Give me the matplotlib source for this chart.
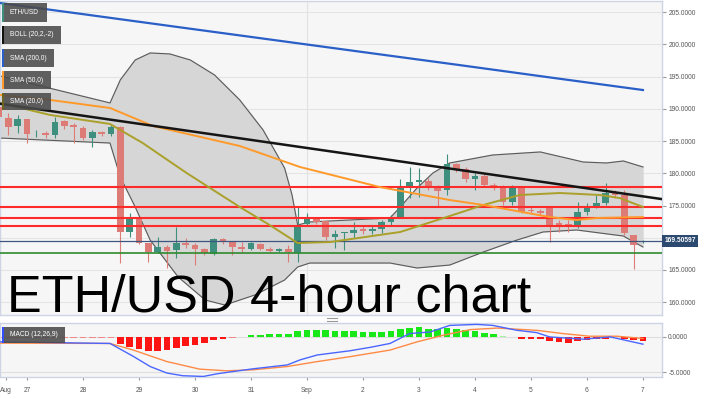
import matplotlib
matplotlib.use('Agg')
import matplotlib.pyplot as plt
from matplotlib.patches import Rectangle
from matplotlib.lines import Line2D
from matplotlib.transforms import blended_transform_factory

plt.rcParams['font.family'] = ['Liberation Sans', 'DejaVu Sans']

# ---------------- data (x = 4-hour bar index, 0 = 27 Aug 00:00) ----------------
bar_idx = list(range(-3, 67))
opens = [190.3, 188.6, 187.3, 188.4, 186.2, 186.3, 185.95, 188.1, 187.5, 187.0,
         185.5, 186.4, 186.1, 187.2, 170.9, 172.9, 169.2, 167.8, 168.6, 168.1,
         169.2, 168.9, 168.25, 167.5, 169.8, 169.3, 168.6, 168.3, 169.1, 168.3,
         167.9, 168.3, 167.6, 172.1, 172.9, 172.6, 170.1, 170.75, 170.7, 171.35,
         171.05, 171.35, 172.4, 173.06, 177.9, 178.65, 178.8, 177.7, 177.4, 181.4,
         180.7, 179.1, 179.6, 178.2, 177.9, 175.5, 177.7, 174.3, 174.2, 174.8,
         172.3, 172.1, 171.97, 174.0, 174.8, 175.4, 176.9, 176.6, 170.4, 169.35]
highs = [190.5, 189.4, 189.0, 188.5, 186.7, 186.6, 188.7, 188.3, 187.8, 187.3,
         186.7, 186.6, 187.5, 187.3, 173.8, 173.2, 169.2, 170.1, 168.8, 171.7,
         169.95, 169.2, 168.4, 169.95, 169.95, 169.5, 169.3, 169.3, 169.2, 168.5,
         168.4, 168.9, 174.8, 173.8, 173.1, 172.6, 171.2, 170.9, 172.4, 171.8,
         171.8, 172.7, 173.5, 179.1, 181.0, 180.8, 179.3, 178.2, 183.0, 181.6,
         181.0, 180.05, 179.9, 178.5, 178.2, 178.2, 177.9, 174.8, 174.5, 174.8,
         172.7, 172.7, 175.5, 175.4, 176.6, 178.5, 177.4, 177.4, 170.4, 169.6]
lows = [188.5, 185.95, 186.3, 184.7, 185.6, 185.5, 185.5, 186.9, 184.7, 185.2,
        184.1, 185.8, 185.8, 166.1, 170.1, 169.0, 166.2, 167.6, 165.3, 166.85,
        168.4, 165.8, 167.3, 167.3, 169.0, 167.3, 167.8, 168.1, 168.1, 167.8,
        167.8, 166.2, 166.2, 172.0, 172.1, 169.6, 168.4, 168.1, 169.95, 170.6,
        170.6, 170.7, 172.0, 173.0, 176.2, 176.3, 177.4, 174.8, 176.6, 180.2,
        178.65, 177.4, 177.9, 177.4, 175.1, 175.1, 173.8, 173.8, 173.6, 169.3,
        170.9, 170.9, 171.5, 173.5, 174.6, 175.1, 176.2, 170.4, 165.1, 169.2]
closes = [188.7, 187.2, 188.4, 186.1, 186.3, 185.95, 187.97, 187.3, 187.2, 185.5,
          186.4, 186.1, 187.2, 170.9, 172.9, 169.2, 167.8, 168.6, 167.9, 169.2,
          168.9, 168.25, 167.6, 169.8, 169.3, 168.6, 168.25, 169.2, 168.25, 167.9,
          168.3, 167.8, 171.7, 172.9, 172.4, 170.1, 170.6, 170.9, 171.2, 171.05,
          171.35, 172.4, 173.1, 177.7, 178.65, 178.96, 177.7, 177.25, 181.4, 180.7,
          179.1, 179.6, 178.2, 177.9, 175.5, 177.9, 174.0, 174.1, 173.9, 172.0,
          172.0, 171.95, 173.99, 174.77, 175.4, 176.9, 176.6, 170.7, 168.9, 169.51]

sma200_x = [-3, 6, 16, 26, 36, 46, 56, 66]
sma200_y = [206.46, 204.71, 202.74, 200.78, 198.82, 196.87, 194.89, 192.93]

sma50_x = [-2.9, 2.5, 8.9, 13.5, 22.8, 29.25, 37.8, 45.3, 48.9, 56.0, 58.9, 61.1, 66]
sma50_y = [192.16, 191.38, 190.14, 187.34, 184.24, 180.98, 177.87, 175.85, 175.08,
           173.21, 172.75, 173.06, 173.21]

sma20_x = [-2.9, 2.5, 8.9, 10.0, 12.4, 17.1, 22.8, 26.0, 29.0, 32.5, 40.0, 45.3,
           48.9, 52.8, 57.1, 61.4, 63.5, 66]
sma20_y = [190.92, 189.05, 187.66, 186.72, 184.70, 180.05, 174.77, 171.97, 169.18,
           169.33, 170.89, 173.37, 175.08, 176.63, 176.94, 176.63, 176.16, 174.77]

boll_up_x = [-2.9, 8.9, 10.0, 11.6, 13.2, 15.3, 17.5, 20.1, 22.8, 25.3, 27.6, 28.4,
             29.0, 30.3, 38.9, 40.0, 41.8, 43.5, 45.3, 49.9, 55.0, 59.6, 62.1, 63.9, 66]
boll_up_y = [195.11, 190.92, 194.49, 197.59, 198.68, 198.53, 197.59, 195.26, 191.38,
             186.72, 180.82, 176.63, 171.97, 172.44, 173.06, 174.77, 177.72, 180.05,
             181.60, 182.84, 183.31, 181.75, 181.60, 181.91, 180.98]
boll_lo_x = [-2.9, 8.9, 10.0, 11.6, 13.2, 16.2, 19.1, 21.2, 24.4, 27.6, 29.0, 30.3,
             38.9, 41.8, 45.3, 48.9, 52.5, 55.3, 58.9, 63.9, 66]
boll_lo_y = [185.48, 184.70, 179.43, 174.77, 169.64, 163.90, 160.33, 159.55, 161.10,
             163.43, 165.45, 166.07, 166.07, 165.30, 165.76, 167.78, 169.64, 170.89,
             171.20, 170.26, 168.56]

trend_x = [-2.9, 68.0]
trend_y = [190.8, 176.0]

red_levels = [177.87, 174.8, 173.0, 171.86]
green_level = 167.67
last_price = 169.50597

macd_x = [-2.9, 8.9, 11.4, 13.2, 15.0, 16.7, 18.9, 20.4, 22.1, 24.2, 27.9, 29.25,
          31.1, 34.6, 36.75, 38.9, 41.0, 43.2, 45.3, 48.2, 49.9, 52.5, 54.6, 56.0,
          59.6, 62.5, 66]
macd_y = [-0.70, -0.93, -2.77, -4.21, -5.14, -5.52, -5.62, -5.24, -4.92, -4.54,
          -3.98, -3.27, -2.57, -1.97, -1.49, -0.93, 0.48, 0.70, 1.64, 1.78, 1.64,
          0.94, 0.62, 0.0, -0.32, 0.0, -1.03]
signal_x = [-2.9, 8.9, 11.4, 15.0, 18.5, 21.4, 24.2, 27.9, 31.1, 34.6, 38.9, 41.8,
            44.6, 47.5, 50.4, 54.6, 57.4, 60.3, 63.2, 66]
signal_y = [-0.88, -0.93, -1.87, -3.51, -4.58, -4.82, -4.68, -4.21, -3.51, -2.81,
            -1.87, -0.70, 0.24, 1.04, 1.26, 0.94, 0.48, 0.10, 0.10, -0.22]
hist = [-0.10, -0.10, -0.10, -0.10, -0.12, -0.12, -0.10, -0.12, -0.15, -0.15,
        -0.12, -0.15, -0.10, -0.94, -1.40, -1.78, -1.97, -1.97, -1.87, -1.54,
        -1.26, -1.08, -0.84, -0.37, -0.23, -0.10, 0.05, 0.33, 0.33, 0.37,
        0.47, 0.47, 0.80, 1.03, 0.94, 0.94, 0.84, 0.84, 0.80, 0.70,
        0.70, 0.70, 0.80, 1.08, 1.31, 1.40, 1.17, 1.08, 1.26, 1.17,
        0.94, 0.80, 0.61, 0.37, 0.08, 0.04, -0.23, -0.23, -0.23, -0.56,
        -0.70, -0.80, -0.61, -0.37, -0.33, -0.23, -0.05, -0.23, -0.47, -0.56]

price_ticks = [160, 165, 175, 180, 185, 190, 195, 200, 205]
macd_ticks = [-5, 0]
day_ticks = [0, 6, 12, 18, 24, 30, 36, 42, 48, 54, 60, 66]
day_labels = ['27', '28', '29', '30', '31', 'Sep', '2', '3', '4', '5', '6', '7']
month_tick = -2.3
month_label = 'Aug'

# ---------------- layout ----------------
W, H = 710, 399
fig = plt.figure(figsize=(W / 100, H / 100), dpi=100)
fig.patch.set_facecolor('white')


def fr(x0, y0, x1, y1):
    return [x0 / W, 1 - y1 / H, (x1 - x0) / W, (y1 - y0) / H]


ax = fig.add_axes(fr(0, 1, 662, 315))
mx = fig.add_axes(fr(0, 323, 662, 377))
XL = (-2.89, 68.04)
border = '#cdd5e5'
for a in (ax, mx):
    a.set_facecolor('#f6f6f6')
    a.set_xlim(*XL)
    for s in a.spines.values():
        s.set_color(border)
        s.set_linewidth(1.0)
    a.yaxis.tick_right()
    a.tick_params(axis='y', length=3, pad=1.5, labelsize=4.8, colors='#9a9a9a',
                  labelcolor='#555555')

ax.set_ylim(158.0, 206.75)
ax.set_yticks(price_ticks)
ax.set_yticklabels(['%.4f' % v for v in price_ticks])
ax.set_xticks([])
for v in price_ticks + [170]:
    ax.axhline(v, color='#e4e4e4', lw=0.8, zorder=0)
ax.axvline(30, color='#e2e2e2', lw=0.8, zorder=0)

# Bollinger band
poly_x = boll_up_x + boll_lo_x[::-1]
poly_y = boll_up_y + boll_lo_y[::-1]
ax.fill(poly_x, poly_y, color='#d6d6d6', zorder=1)
ax.plot(boll_up_x, boll_up_y, color='#5a5a5a', lw=0.8, zorder=2)
ax.plot(boll_lo_x, boll_lo_y, color='#5a5a5a', lw=0.8, zorder=2)

# candles
up_c, dn_c = '#3f8f7f', '#dd7b76'
for k, o, h, l, c in zip(bar_idx, opens, highs, lows, closes):
    col = up_c if c >= o else dn_c
    ax.vlines(k, l, h, color=col, lw=0.8, zorder=3)
    b = min(o, c)
    hh = max(abs(c - o), 0.08)
    ax.add_patch(Rectangle((k - 0.36, b), 0.72, hh, facecolor=col, edgecolor='none',
                           zorder=3))

# levels
for lv in red_levels:
    ax.axhline(lv, color='#ff2a2a', lw=1.5, zorder=4)
ax.axhline(green_level, color='#2e8b2e', lw=1.2, zorder=4)
ax.axhline(last_price, color='#3e5580', lw=0.9, zorder=4)

# moving averages & trend line
ax.plot(sma20_x, sma20_y, color='#aaa02a', lw=1.4, zorder=5)
ax.plot(sma50_x, sma50_y, color='#ff9a2a', lw=1.4, zorder=5)
ax.plot(sma200_x, sma200_y, color='#2b5fc8', lw=1.6, zorder=5)
ax.plot(trend_x, trend_y, color='#151515', lw=1.8, zorder=5)

# last price tag
tr = blended_transform_factory(ax.transAxes, ax.transData)
ax.text(1.004, last_price, '%.5f' % last_price, transform=tr, ha='left', va='center',
        fontsize=4.8, color='white', fontweight='bold', zorder=10, clip_on=False,
        bbox=dict(boxstyle='square,pad=0.35', facecolor='#2c4a70', edgecolor='none'))

# MACD panel
mx.set_ylim(-5.70, 1.98)
mx.set_yticks(macd_ticks)
mx.set_yticklabels(['%.4f' % v for v in macd_ticks])
for v in macd_ticks:
    mx.axhline(v, color='#dedede', lw=0.8, zorder=0)
cols = []
for v in hist:
    if v < 0:
        cols.append('#f08a8a' if v > -0.16 else '#ff1414')
    else:
        cols.append('#a8f0a8' if v < 0.1 else '#18e818')
mx.bar(bar_idx, hist, width=0.72, color=cols, zorder=2)
mx.plot(signal_x, signal_y, color='#ff8a45', lw=1.0, zorder=3)
mx.plot(macd_x, macd_y, color='#4a66ff', lw=1.0, zorder=3)
mx.set_xticks([month_tick] + day_ticks)
mx.set_xticklabels([month_label] + day_labels)
mx.tick_params(axis='x', length=2, pad=5, labelsize=4.8, colors='#9a9a9a',
               labelcolor='#555555')

# legend boxes (top-left)
labels = [('ETH/USD', '#3f8f7f', 2, 3, 47, 22),
          ('BOLL (20,2,-2)', '#111111', 2, 26, 61, 44),
          ('SMA (200,0)', '#2b5fc8', 2, 49, 54, 67),
          ('SMA (50,0)', '#ff9a2a', 2, 71, 51, 89),
          ('SMA (20,0)', '#6b6420', 2, 93, 51, 110),
          ('MACD (12,26,9)', '#3050ff', 2, 327, 65, 343)]
for txt, sc, x0, y0, x1, y1 in labels:
    r = fr(x0, y0, x1, y1)
    fig.add_artist(Rectangle((r[0], r[1]), r[2], r[3], transform=fig.transFigure,
                             facecolor='#4a4a4a', alpha=0.88, edgecolor='none', zorder=8))
    s = fr(x0, y0, x0 + 2, y1)
    fig.add_artist(Rectangle((s[0], s[1]), s[2], s[3], transform=fig.transFigure,
                             facecolor=sc, edgecolor='none', zorder=9))
    fig.text((x0 + 8) / W, 1 - (y0 + y1) / 2 / H, txt, fontsize=4.8, color='white',
             va='center', ha='left', zorder=10)

# panel drag handle
for yy in (318, 320.5):
    fig.add_artist(Line2D([327 / W, 337 / W], [1 - yy / H, 1 - yy / H],
                          transform=fig.transFigure, color='#9a9a9a', lw=0.8))

# big caption
fig.text(7 / W, 1 - 312 / H, 'ETH/USD 4-hour chart', fontsize=37.5, color='black',
         ha='left', va='baseline', zorder=20)

fig.savefig('out.png', dpi=100)
